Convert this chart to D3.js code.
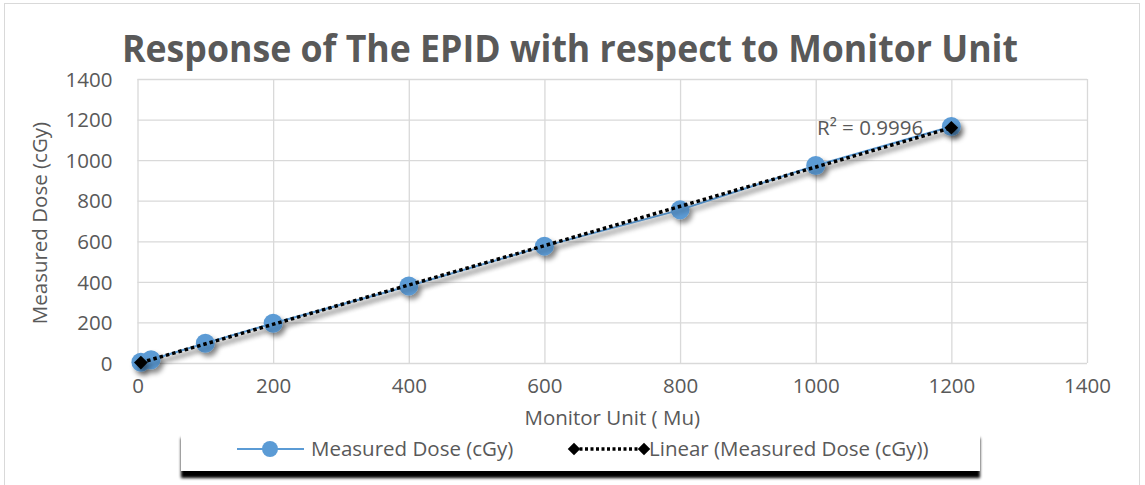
<!DOCTYPE html>
<html>
<head>
<meta charset="utf-8">
<script src="https://cdn.jsdelivr.net/npm/d3@7"></script>
<style>
  body { margin: 0; background: #fff; }
  text { font-family: "Open Sans", Lato, sans-serif; fill: #595959; }
</style>
</head>
<body>
<svg id="chart"></svg>
<script>
// data
const monitorUnits = [5, 20, 100, 200, 400, 600, 800, 1000, 1200];
const measuredDose = [4, 16, 97, 196, 380, 576, 755, 974, 1166];
const xTicks = [0, 200, 400, 600, 800, 1000, 1200, 1400];
const yTicks = [0, 200, 400, 600, 800, 1000, 1200, 1400];
const r2Label = "R² = 0.9996";

const width = 1145;
const height = 485;
const fs = "20.5px";
const svg = d3.select("#chart").attr("width", width).attr("height", height);

// shadow filters
const defs = svg.append("defs");
defs.append("filter").attr("id", "shadow").attr("x", "-20%").attr("y", "-50%")
  .attr("width", "140%").attr("height", "200%")
  .append("feDropShadow")
  .attr("dx", 3).attr("dy", 4).attr("stdDeviation", 2.5)
  .attr("flood-color", "#000").attr("flood-opacity", 0.45);
defs.append("filter").attr("id", "boxShadow").attr("x", "-5%").attr("y", "-50%")
  .attr("width", "110%").attr("height", "250%")
  .append("feDropShadow")
  .attr("dx", 0).attr("dy", 7).attr("stdDeviation", 1.5)
  .attr("flood-color", "#000").attr("flood-opacity", 1);

// chart border
svg.append("rect")
  .attr("x", 4.5).attr("y", 3.5).attr("width", 1135).attr("height", 490)
  .attr("fill", "none").attr("stroke", "#d9d9d9");

const x = d3.scaleLinear().domain([0, 1400]).range([137.5, 1087]);
const y = d3.scaleLinear().domain([0, 1400]).range([363, 79]);

// gridlines
svg.append("g").selectAll("line.h").data(yTicks).join("line")
  .attr("x1", x(0)).attr("x2", x(1400))
  .attr("y1", (d) => y(d) + 0.5).attr("y2", (d) => y(d) + 0.5)
  .attr("stroke", "#d9d9d9").attr("stroke-width", 1.3);
svg.append("g").selectAll("line.v").data(xTicks).join("line")
  .attr("x1", (d) => x(d) + 0.5).attr("x2", (d) => x(d) + 0.5)
  .attr("y1", y(0)).attr("y2", y(1400))
  .attr("stroke", "#d9d9d9").attr("stroke-width", 1.3);

// axes (labels only)
const xAxis = svg.append("g").attr("transform", `translate(0,${y(0)})`)
  .call(d3.axisBottom(x).tickValues(xTicks).tickFormat(d3.format("d"))
    .tickSize(0).tickPadding(23));
const yAxis = svg.append("g").attr("transform", `translate(${x(0)},0)`)
  .call(d3.axisLeft(y).tickValues(yTicks).tickFormat(d3.format("d"))
    .tickSize(0).tickPadding(25));
[xAxis, yAxis].forEach((a) => {
  a.select(".domain").remove();
  a.selectAll("text").style("font-size", fs).attr("fill", "#595959")
    .style("font-family", "'Open Sans', sans-serif");
});
xAxis.selectAll("text").attr("dy", "0.35em");
yAxis.selectAll("text").attr("dy", "0.35em");

// title
svg.append("text")
  .attr("x", 570).attr("y", 62)
  .attr("text-anchor", "middle")
  .attr("textLength", 896).attr("lengthAdjust", "spacingAndGlyphs")
  .style("font-size", "37px").style("font-weight", "bold")
  .text("Response of The EPID with respect to Monitor Unit");

// axis titles
svg.append("text")
  .attr("transform", `translate(47,${y(690)}) rotate(-90)`)
  .attr("text-anchor", "middle")
  .style("font-size", fs)
  .text("Measured Dose (cGy)");
svg.append("text")
  .attr("x", x(700)).attr("y", 425)
  .attr("text-anchor", "middle")
  .style("font-size", fs)
  .text("Monitor Unit ( Mu)");

const points = monitorUnits.map((m, i) => ({ m: m, d: measuredDose[i] }));

// linear trendline from least squares
const mx = d3.mean(monitorUnits);
const my = d3.mean(measuredDose);
const slope = d3.sum(points, (p) => (p.m - mx) * (p.d - my)) /
  d3.sum(points, (p) => (p.m - mx) * (p.m - mx));
const intercept = my - slope * mx;
const trend = d3.extent(monitorUnits).map((m) => ({ m: m, d: intercept + slope * m }));

const series = svg.append("g").attr("filter", "url(#shadow)");
const line = d3.line().x((p) => x(p.m)).y((p) => y(p.d));

series.append("path").datum(points)
  .attr("d", line).attr("fill", "none")
  .attr("stroke", "#5b9bd5").attr("stroke-width", 2);
series.selectAll("circle").data(points).join("circle")
  .attr("cx", (p) => x(p.m)).attr("cy", (p) => y(p.d)).attr("r", 9.5)
  .attr("fill", "#5b9bd5");

const trendG = svg.append("g").attr("filter", "url(#shadow)");
trendG.append("path").datum(trend)
  .attr("d", line).attr("fill", "none")
  .attr("stroke", "#000").attr("stroke-width", 3.5)
  .attr("stroke-dasharray", "3.5,3");
const diamond = d3.symbol().type(d3.symbolDiamond2).size(120);
trendG.selectAll("path.dm").data(trend).join("path")
  .attr("class", "dm")
  .attr("transform", (p) => `translate(${x(p.m)},${y(p.d)})`)
  .attr("d", diamond).attr("fill", "#000");

svg.append("text")
  .attr("x", 817).attr("y", 135)
  .style("font-size", fs)
  .text(r2Label);

// legend
const legend = svg.append("g");
legend.append("rect")
  .attr("x", 181).attr("y", 431).attr("width", 799).attr("height", 40)
  .attr("fill", "#fff").attr("filter", "url(#boxShadow)");
legend.append("line")
  .attr("x1", 237).attr("x2", 304).attr("y1", 449).attr("y2", 449)
  .attr("stroke", "#5b9bd5").attr("stroke-width", 2);
legend.append("circle").attr("cx", 270).attr("cy", 449).attr("r", 8).attr("fill", "#5b9bd5");
legend.append("text").attr("x", 311).attr("y", 456).style("font-size", fs)
  .text("Measured Dose (cGy)");
legend.append("line")
  .attr("x1", 574).attr("x2", 644).attr("y1", 449).attr("y2", 449)
  .attr("stroke", "#000").attr("stroke-width", 3.5).attr("stroke-dasharray", "3,2.5");
legend.selectAll("path.ld").data([574, 644]).join("path")
  .attr("class", "ld")
  .attr("transform", (d) => `translate(${d},449)`)
  .attr("d", d3.symbol().type(d3.symbolDiamond2).size(100)).attr("fill", "#000");
legend.append("text").attr("x", 649).attr("y", 456).style("font-size", fs)
  .text("Linear (Measured Dose (cGy))");
</script>
</body>
</html>
